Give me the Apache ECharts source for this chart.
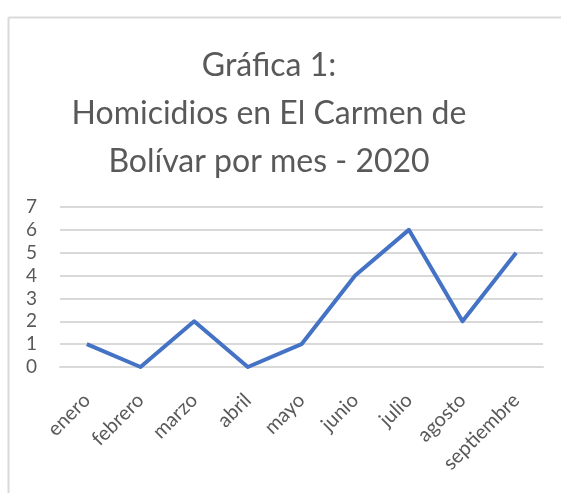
<!DOCTYPE html>
<html>
<head>
<meta charset="utf-8">
<script src="https://cdn.jsdelivr.net/npm/echarts@6/dist/echarts.min.js"></script>
<style>
  html, body { margin: 0; padding: 0; background: #fff; }
  #chart { width: 561px; height: 493px; }
</style>
</head>
<body>
<div id="chart"></div>
<script>
// Months and homicides per month
const months = ["enero", "febrero", "marzo", "abril", "mayo", "junio", "julio", "agosto", "septiembre"];
const homicides = [1, 0, 2, 0, 1, 4, 6, 2, 5];
const yTicks = [0, 7, 1];

const chart = echarts.init(document.getElementById("chart"));

const option = {
  animation: false,
  title: {
    text: "Gráfica 1:\nHomicidios en El Carmen de\nBolívar por mes - 2020",
    left: 264,
    top: 37,
    textAlign: "center",
    textStyle: {
      fontFamily: "Lato",
      fontWeight: "normal",
      fontSize: 32,
      lineHeight: 48,
      color: "#595959",
      align: "center",
    },
  },
  graphic: [
    {
      type: "line",
      shape: { x1: 8.5, y1: 17.5, x2: 561, y2: 17.5 },
      style: { stroke: "#d9d9d9", lineWidth: 2 },
    },
    {
      type: "line",
      shape: { x1: 8.5, y1: 17.5, x2: 8.5, y2: 493 },
      style: { stroke: "#d9d9d9", lineWidth: 2 },
    },
  ],
  grid: { left: 60, right: 18, top: 207, bottom: 126 },
  xAxis: {
    type: "category",
    data: months,
    boundaryGap: true,
    axisLine: { show: true, lineStyle: { color: "#d9d9d9", width: 2 } },
    axisTick: { show: false },
    axisLabel: {
      rotate: 45,
      margin: 30,
      interval: 0,
      fontFamily: "Lato",
      fontSize: 20,
      color: "#595959",
    },
  },
  yAxis: {
    type: "value",
    min: yTicks[0],
    max: yTicks[1],
    interval: yTicks[2],
    axisLine: { show: false },
    axisTick: { show: false },
    splitLine: { lineStyle: { color: "#d9d9d9", width: 2 } },
    axisLabel: {
      margin: 23,
      fontFamily: "Lato",
      fontSize: 19,
      color: "#595959",
    },
  },
  series: [
    {
      type: "line",
      data: homicides,
      symbol: "none",
      lineStyle: { color: "#4472C4", width: 4, join: "round" },
    },
  ],
};

chart.setOption(option);
</script>
</body>
</html>
